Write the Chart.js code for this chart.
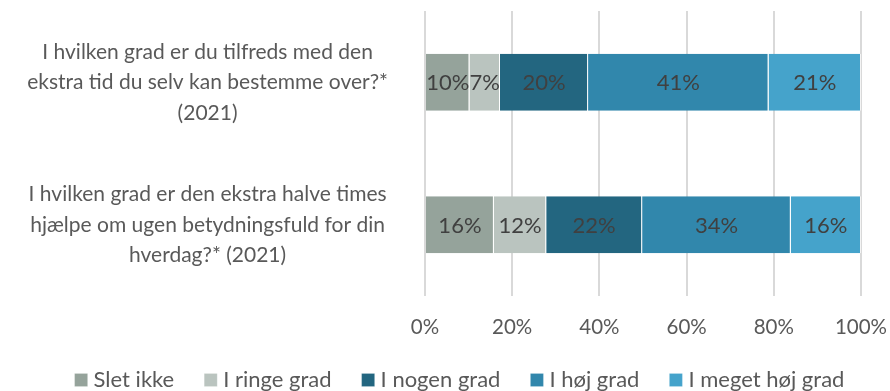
<!DOCTYPE html>
<html>
<head>
<meta charset="utf-8">
<script src="https://cdn.jsdelivr.net/npm/chart.js@4/dist/chart.umd.min.js"></script>
<style>
  html, body { margin: 0; padding: 0; background: #fff; }
  #wrap { width: 890px; height: 391px; position: relative; }
</style>
</head>
<body>
<div id="wrap"><canvas id="c"></canvas></div>
<script>
// Survey questions (category axis), one line per array entry
const questions = [
  ['I hvilken grad er du tilfreds med den', 'ekstra tid du selv kan bestemme over?*', '(2021)'],
  ['I hvilken grad er den ekstra halve times', 'hjælpe om ugen betydningsfuld for din', 'hverdag?* (2021)']
];

// Answer categories (series)
const seriesNames = ['Slet ikke', 'I ringe grad', 'I nogen grad', 'I høj grad', 'I meget høj grad'];

// Share of respondents per answer, in percent (question 1, question 2)
const sletIkke       = [10.2, 15.8];
const iRingeGrad     = [7.0, 12.0];
const iNogenGrad     = [20.2, 22.0];
const iHoejGrad      = [41.4, 34.1];
const iMegetHoejGrad = [21.2, 16.1];

// Percent axis ticks
const xTicks = [0, 20, 40, 60, 80, 100];

const seriesValues = [sletIkke, iRingeGrad, iNogenGrad, iHoejGrad, iMegetHoejGrad];
const seriesColors = ['#95A39B', '#BAC4BF', '#236680', '#3187AC', '#45A3CB'];

const FONT = 'Lato, "Open Sans", sans-serif';

// Writes the rounded percentage in the middle of each bar segment
const segmentLabels = {
  id: 'segmentLabels',
  afterDatasetsDraw(chart) {
    const ctx = chart.ctx;
    ctx.save();
    ctx.font = '22px ' + FONT;
    ctx.fillStyle = '#404040';
    ctx.textAlign = 'center';
    ctx.textBaseline = 'middle';
    chart.data.datasets.forEach((ds, i) => {
      const meta = chart.getDatasetMeta(i);
      meta.data.forEach((bar, j) => {
        const p = bar.getCenterPoint();
        ctx.fillText(Math.round(ds.data[j]) + '%', p.x, p.y + 1);
      });
    });
    ctx.restore();
  }
};

// Nudges the legend row into place below the percent axis
const legendOffset = {
  id: 'legendOffset',
  afterLayout(chart, args, opts) {
    const lg = chart.legend;
    if (!lg) return;
    lg.left += opts.dx; lg.right += opts.dx;
    lg.top += opts.dy; lg.bottom += opts.dy;
  }
};

new Chart(document.getElementById('c'), {
  type: 'bar',
  data: {
    labels: questions,
    datasets: seriesNames.map((name, i) => ({
      label: name,
      data: seriesValues[i],
      backgroundColor: seriesColors[i],
      borderColor: 'rgba(255,255,255,0.7)',
      borderWidth: { left: 0, right: 1, top: 0, bottom: 0 },
      borderSkipped: false,
      barPercentage: 0.8,
      categoryPercentage: 0.5
    }))
  },
  options: {
    indexAxis: 'y',
    responsive: true,
    maintainAspectRatio: false,
    animation: false,
    layout: { padding: { top: 11, right: 0, bottom: -34.6, left: 0 } },
    scales: {
      x: {
        stacked: true,
        min: 0,
        max: 100,
        afterBuildTicks(axis) { axis.ticks = xTicks.map(v => ({ value: v })); },
        afterFit(axis) { axis.paddingLeft = 0; axis.paddingRight = 29; },
        grid: { color: '#D9D9D9', lineWidth: 2, drawTicks: false },
        border: { display: false },
        ticks: {
          padding: 19,
          color: '#595959',
          font: { family: FONT, size: 20.5 },
          callback: v => v + '%'
        }
      },
      y: {
        stacked: true,
        grid: { display: false, drawTicks: false },
        border: { display: false },
        afterFit(axis) { axis.width = 425; axis.paddingTop = 0; axis.paddingBottom = 0; },
        ticks: {
          crossAlign: 'center',
          padding: 37,
          color: '#595959',
          font: { family: FONT, size: 21, lineHeight: '30.5px' }
        }
      }
    },
    plugins: {
      legend: {
        position: 'bottom',
        labels: {
          usePointStyle: true,
          pointStyle: 'rect',
          boxWidth: 3,
          boxHeight: 13,
          padding: 35,
          color: '#595959',
          font: { family: FONT, size: 22 }
        }
      },
      legendOffset: { dx: 17, dy: -24.6 },
      tooltip: { enabled: false }
    }
  },
  plugins: [segmentLabels, legendOffset]
});
</script>
</body>
</html>
